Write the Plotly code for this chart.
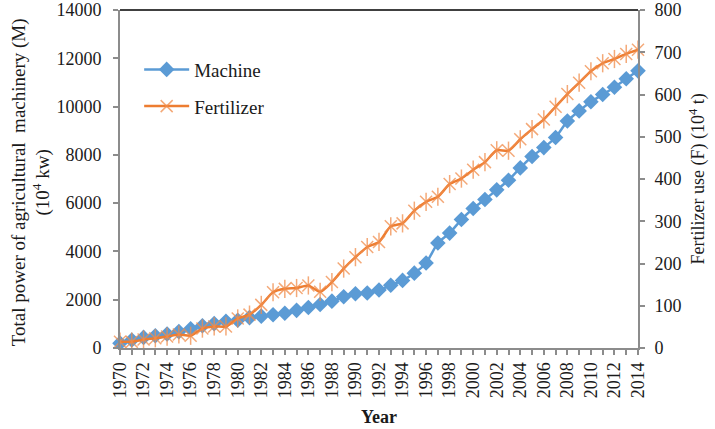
import plotly.graph_objects as go

years = list(range(1970, 2015))
machine = [200, 330, 440, 510, 580, 680, 800, 920, 1010, 1110,
           1150, 1260, 1320, 1380, 1440, 1560, 1680, 1800, 1940, 2120,
           2250, 2280, 2400, 2600, 2800, 3100, 3520, 4350, 4760, 5320,
           5780, 6150, 6550, 6950, 7460, 7930, 8300, 8720, 9400, 9820,
           10200, 10500, 10800, 11150, 11480]
fertilizer = [15, 15, 20, 23, 27, 32, 29, 46, 51, 51,
              70, 79, 102, 132, 140, 142, 148, 133, 156, 188,
              215, 239, 251, 288, 295, 325, 346, 358, 388, 401,
              422, 440, 468, 467, 494, 518, 541, 571, 601, 628,
              655, 674, 684, 696, 706]
x_tick_years = list(range(1970, 2015, 2))
left_ticks = list(range(0, 14001, 2000))
right_ticks = list(range(0, 801, 100))

BLUE = "#5B9BD5"
ORANGE = "#ED7D31"
ORANGE_LIGHT = "rgba(240,140,75,0.75)"
GRAY = "#8C8C8C"
FONT = "Liberation Serif"

fig = go.Figure()
fig.add_trace(go.Scatter(
    x=years, y=machine, name="Machine", mode="lines+markers",
    line=dict(color=BLUE, width=2.5, shape="spline", smoothing=0.6),
    marker=dict(symbol="diamond", size=12, color=BLUE),
    cliponaxis=False, legendgroup="m", yaxis="y"))
fig.add_trace(go.Scatter(
    x=years, y=fertilizer, name="Fertilizer", mode="lines+markers",
    line=dict(color=ORANGE, width=2.5, shape="spline", smoothing=0.6),
    marker=dict(symbol="x-thin-open", size=12, color=ORANGE_LIGHT,
                line=dict(color=ORANGE_LIGHT, width=1.5)),
    cliponaxis=False, legendgroup="f", yaxis="y2"))
fig.add_trace(go.Scatter(
    x=years, y=fertilizer, mode="markers", showlegend=False,
    marker=dict(symbol="line-ns-open", size=13, color=ORANGE_LIGHT,
                line=dict(color=ORANGE_LIGHT, width=1.5)),
    cliponaxis=False, hoverinfo="skip", yaxis="y2"))

fig.update_layout(
    width=715, height=429,
    margin=dict(l=120, r=77, t=10, b=81, autoexpand=False),
    paper_bgcolor="white", plot_bgcolor="white",
    font=dict(family=FONT, size=18, color="#1a1a1a"),
    showlegend=True,
    legend=dict(x=0.037, y=0.88, xanchor="left", yanchor="top",
                bgcolor="rgba(0,0,0,0)", font=dict(size=19, family=FONT),
                tracegroupgap=9, itemwidth=45),
    xaxis=dict(range=[1970, 2014], tickmode="array", tickvals=x_tick_years,
               ticktext=[str(y) for y in x_tick_years], tickangle=-90,
               ticks="outside", ticklen=5, tickcolor=GRAY, tickwidth=1.5,
               showline=True, linecolor=GRAY, linewidth=2, showgrid=False,
               zeroline=False, tickfont=dict(size=18, family=FONT),
               automargin=False,
               minor=dict(dtick=1, tick0=1970, ticks="outside", ticklen=5,
                          tickcolor=GRAY, tickwidth=1.5, showgrid=False)),
    yaxis=dict(range=[0, 14000], tickmode="array", tickvals=left_ticks,
               ticktext=[str(v) for v in left_ticks], ticks="outside",
               ticklen=5, tickcolor=GRAY, tickwidth=1.5, showline=True,
               linecolor=GRAY, linewidth=2, showgrid=False, zeroline=False,
               tickfont=dict(size=18, family=FONT), ticklabelstandoff=8,
               automargin=False),
    yaxis2=dict(range=[0, 800], tickmode="array", tickvals=right_ticks,
                ticktext=[str(v) for v in right_ticks], overlaying="y",
                side="right", ticks="outside", ticklen=5, tickcolor=GRAY,
                tickwidth=1.5, showline=True, linecolor=GRAY, linewidth=2,
                showgrid=False, zeroline=False, automargin=False,
                tickfont=dict(size=18, family=FONT), ticklabelstandoff=6),
)

fig.add_shape(type="line", xref="paper", yref="paper", x0=0, x1=1, y0=1, y1=1,
              line=dict(color="black", width=1.5))

fig.add_annotation(text="Total power of agricultural  machinery (M)<br>(10<sup>4</sup> kw)",
                   xref="paper", yref="paper", x=-0.172, y=0.49,
                   xanchor="center", yanchor="middle", textangle=-90,
                   showarrow=False, font=dict(size=19, family=FONT))
fig.add_annotation(text="Fertilizer use (F) (10<sup>4</sup> t)",
                   xref="paper", yref="paper", x=1.115, y=0.5,
                   xanchor="center", yanchor="middle", textangle=-90,
                   showarrow=False, font=dict(size=18, family=FONT))
fig.add_annotation(text="<b>Year</b>", xref="paper", yref="paper",
                   x=0.5, y=-0.205, xanchor="center", yanchor="middle",
                   showarrow=False, font=dict(size=18, family=FONT))

fig.write_html("out.html", config={"displayModeBar": False},
               post_script="document.body.style.margin='0';"
                           "document.body.style.overflow='hidden';")
